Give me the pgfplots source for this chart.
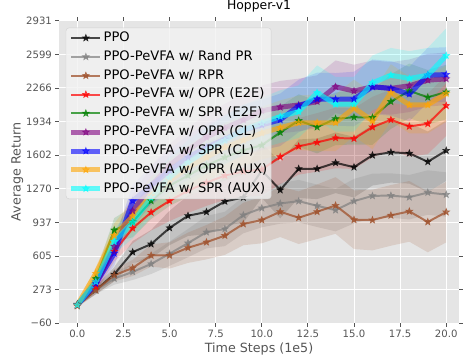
\documentclass[border=0pt]{standalone}
\usepackage{pgfplots}
\pgfplotsset{compat=1.18}
\usepgfplotslibrary{fillbetween}
\usepackage{pgfplotstable}
\usepackage{fontspec}
\setmainfont{DejaVu Sans}
\definecolor{bg}{HTML}{E5E5E5}
\definecolor{tk}{HTML}{555555}
\definecolor{cppo}{HTML}{000000}
\definecolor{crnd}{HTML}{808080}
\definecolor{crpr}{HTML}{A0522D}
\definecolor{cred}{HTML}{FF0000}
\definecolor{cgrn}{HTML}{008000}
\definecolor{cpur}{HTML}{800080}
\definecolor{cblu}{HTML}{0000FF}
\definecolor{corg}{HTML}{FFA500}
\definecolor{ccya}{HTML}{00FFFF}
\pgfdeclareplotmark{fstar}{%
  \pgfpathmoveto{\pgfpointpolar{90}{\pgfplotmarksize}}%
  \pgfpathlineto{\pgfpointpolar{126}{0.42\pgfplotmarksize}}%
  \pgfpathlineto{\pgfpointpolar{162}{\pgfplotmarksize}}%
  \pgfpathlineto{\pgfpointpolar{198}{0.42\pgfplotmarksize}}%
  \pgfpathlineto{\pgfpointpolar{234}{\pgfplotmarksize}}%
  \pgfpathlineto{\pgfpointpolar{270}{0.42\pgfplotmarksize}}%
  \pgfpathlineto{\pgfpointpolar{306}{\pgfplotmarksize}}%
  \pgfpathlineto{\pgfpointpolar{342}{0.42\pgfplotmarksize}}%
  \pgfpathlineto{\pgfpointpolar{18}{\pgfplotmarksize}}%
  \pgfpathlineto{\pgfpointpolar{54}{0.42\pgfplotmarksize}}%
  \pgfpathclose\pgfusepathqfillstroke}
\pgfplotstableread{
t ppo ppoe rnd rnde rpr rpre oe oee se see oc oce sc sce oa oae sa sae
0 126 20 120 15 110 15 120 20 120 20 120 20 120 20 120 20 120 20
1 267 40 267 40 267 40 300 50 380 60 350 60 330 60 431 60 349 60
2 424 70 381 60 414 60 650 100 860 120 700 120 630 120 806 120 747 120
3 643 110 447 80 486 80 879 150 940 150 1050 160 1150 160 1000 160 938 160
4 722 140 526 100 610 110 1036 180 1150 180 1300 190 1300 190 1200 190 1180 190
5 882 170 627 120 610 130 1150 200 1300 200 1500 210 1450 210 1350 210 1380 210
6 1002 200 732 140 686 150 1250 220 1400 210 1650 220 1580 220 1480 220 1530 220
7 1040 220 840 160 741 170 1330 230 1500 220 1780 230 1680 230 1580 230 1650 230
8 1144 240 872 170 806 190 1400 240 1580 230 1870 240 1760 240 1680 240 1750 240
9 1183 250 1009 180 921 210 1440 250 1650 240 1950 250 1850 250 1750 250 1850 250
10 1450 270 1078 190 960 230 1460 260 1700 250 2040 250 1900 250 1820 260 1920 250
11 1257 280 1124 200 1042 250 1585 270 1826 260 2076 260 1951 260 1873 270 1983 260
12 1467 290 1147 210 983 260 1689 280 1944 260 2098 260 2088 260 1922 270 2032 260
13 1467 300 1101 210 1042 270 1728 290 1879 260 2131 260 2157 260 1922 280 2219 270
14 1526 300 1058 210 1104 280 1772 300 1961 260 2278 260 2154 260 1922 280 2105 270
15 1483 300 1147 220 963 290 1765 300 1977 270 2236 260 2157 270 2069 280 2105 270
16 1601 300 1199 220 960 300 1879 300 1974 270 2278 260 2278 270 1941 280 2317 270
17 1630 300 1202 220 1006 300 1951 300 2131 270 2262 260 2262 270 2221 280 2392 270
18 1620 300 1186 220 1046 300 1886 300 2238 270 2288 260 2206 270 2098 280 2360 270
19 1536 300 1232 220 941 300 1912 300 2174 270 2343 260 2392 270 2098 280 2392 270
20 1647 300 1212 220 1039 300 2091 300 2226 270 2356 260 2399 270 2211 280 2586 270
}\data
\begin{document}
\begin{tikzpicture}
\begin{axis}[
  scale only axis, width=403.6pt, height=305pt,
  xmin=-1, xmax=20.7, ymin=-60, ymax=2931,
  axis background/.style={fill=bg},
  axis line style={draw=none},
  grid=major, grid style={white, line width=0.9pt},
  tick align=outside, major tick length=3.5pt,
  tick style={tk, line width=0.8pt},
  xtick={0,2.5,5,7.5,10,12.5,15,17.5,20},
  xticklabel={\pgfmathprintnumber[fixed,fixed zerofill,precision=1,assume math mode=true]{\tick}},
  ytick={-60,272.33,604.67,937,1269.33,1601.67,1934,2266.33,2598.67,2931},
  yticklabels={−60,273,605,937,1270,1602,1934,2266,2599,2931},
  ticklabel style={font=\fontsize{10.2}{12}\selectfont, text=tk},
  title={Hopper-v1},
  title style={font=\fontsize{12.5}{15}\selectfont, at={(axis description cs:0.5,1)}, anchor=south, inner sep=0pt, yshift=3pt},
  xlabel={Time Steps (1e5)},
  xlabel style={font=\fontsize{12.8}{15}\selectfont, text=tk, at={(axis description cs:0.5,-0.085)}, anchor=center},
  ylabel={Average Return},
  ylabel style={font=\fontsize{12.8}{15}\selectfont, text=tk, at={(axis description cs:-0.104,0.5)}, anchor=center},
  legend image code/.code={\draw[mark repeat=2,mark phase=2] plot coordinates {(0pt,0pt) (14.5pt,0pt) (29pt,0pt)};},
  legend cell align=left,
  legend style={at={(axis description cs:0.0173,0.977)}, anchor=north west,
    fill=gray!10, fill opacity=0.8, text opacity=1, draw opacity=1, draw=black!18,
    rounded corners=3pt, font=\fontsize{13.2}{15}\selectfont,
    inner xsep=3pt, inner ysep=3pt, row sep=4.6pt,
    nodes={inner sep=1pt, text height=9.6pt, text depth=2.8pt}},
]
% bands
\addplot[draw=none, name path=aU, forget plot] table[x=t, y expr=\thisrow{ppo}+\thisrow{ppoe}] {\data};
\addplot[draw=none, name path=aL, forget plot] table[x=t, y expr=\thisrow{ppo}-\thisrow{ppoe}] {\data};
\addplot[fill=cppo, fill opacity=0.15, draw=none, forget plot] fill between[of=aU and aL];
\addplot[draw=none, name path=bU, forget plot] table[x=t, y expr=\thisrow{rnd}+\thisrow{rnde}] {\data};
\addplot[draw=none, name path=bL, forget plot] table[x=t, y expr=\thisrow{rnd}-\thisrow{rnde}] {\data};
\addplot[fill=crnd, fill opacity=0.2, draw=none, forget plot] fill between[of=bU and bL];
\addplot[draw=none, name path=cU, forget plot] table[x=t, y expr=\thisrow{rpr}+\thisrow{rpre}] {\data};
\addplot[draw=none, name path=cL, forget plot] table[x=t, y expr=\thisrow{rpr}-\thisrow{rpre}] {\data};
\addplot[fill=crpr, fill opacity=0.16, draw=none, forget plot] fill between[of=cU and cL];
\addplot[draw=none, name path=dU, forget plot] table[x=t, y expr=\thisrow{oe}+\thisrow{oee}] {\data};
\addplot[draw=none, name path=dL, forget plot] table[x=t, y expr=\thisrow{oe}-\thisrow{oee}] {\data};
\addplot[fill=cred, fill opacity=0.14, draw=none, forget plot] fill between[of=dU and dL];
\addplot[draw=none, name path=eU, forget plot] table[x=t, y expr=\thisrow{se}+\thisrow{see}] {\data};
\addplot[draw=none, name path=eL, forget plot] table[x=t, y expr=\thisrow{se}-\thisrow{see}] {\data};
\addplot[fill=cgrn, fill opacity=0.14, draw=none, forget plot] fill between[of=eU and eL];
\addplot[draw=none, name path=fU, forget plot] table[x=t, y expr=\thisrow{oc}+\thisrow{oce}] {\data};
\addplot[draw=none, name path=fL, forget plot] table[x=t, y expr=\thisrow{oc}-\thisrow{oce}] {\data};
\addplot[fill=cpur, fill opacity=0.14, draw=none, forget plot] fill between[of=fU and fL];
\addplot[draw=none, name path=gU, forget plot] table[x=t, y expr=\thisrow{sc}+\thisrow{sce}] {\data};
\addplot[draw=none, name path=gL, forget plot] table[x=t, y expr=\thisrow{sc}-\thisrow{sce}] {\data};
\addplot[fill=cblu, fill opacity=0.12, draw=none, forget plot] fill between[of=gU and gL];
\addplot[draw=none, name path=hU, forget plot] table[x=t, y expr=\thisrow{oa}+\thisrow{oae}] {\data};
\addplot[draw=none, name path=hL, forget plot] table[x=t, y expr=\thisrow{oa}-\thisrow{oae}] {\data};
\addplot[fill=corg, fill opacity=0.18, draw=none, forget plot] fill between[of=hU and hL];
\addplot[draw=none, name path=iU, forget plot] table[x=t, y expr=\thisrow{sa}+\thisrow{sae}] {\data};
\addplot[draw=none, name path=iL, forget plot] table[x=t, y expr=\thisrow{sa}-\thisrow{sae}] {\data};
\addplot[fill=ccya, fill opacity=0.17, draw=none, forget plot] fill between[of=iU and iL];
% lines
\addplot[cppo, opacity=0.7, line width=2pt, mark=fstar, mark size=3.6pt, mark options={line width=0.6pt}] table[x=t, y=ppo] {\data};
\addlegendentry{PPO}
\addplot[crnd, opacity=0.7, line width=2pt, mark=fstar, mark size=3.6pt, mark options={line width=0.6pt}] table[x=t, y=rnd] {\data};
\addlegendentry{PPO-PeVFA w/ Rand PR}
\addplot[crpr, opacity=0.75, line width=2pt, mark=fstar, mark size=3.6pt, mark options={line width=0.6pt}] table[x=t, y=rpr] {\data};
\addlegendentry{PPO-PeVFA w/ RPR}
\addplot[cred, opacity=0.7, line width=2pt, mark=fstar, mark size=3.6pt, mark options={line width=0.6pt}] table[x=t, y=oe] {\data};
\addlegendentry{PPO-PeVFA w/ OPR (E2E)}
\addplot[cgrn, opacity=0.7, line width=2pt, mark=fstar, mark size=3.6pt, mark options={line width=0.6pt}] table[x=t, y=se] {\data};
\addlegendentry{PPO-PeVFA w/ SPR (E2E)}
\addplot[cpur, opacity=0.6, line width=5pt, mark=fstar, mark size=3.6pt, mark options={line width=0.6pt}] table[x=t, y=oc] {\data};
\addlegendentry{PPO-PeVFA w/ OPR (CL)}
\addplot[cblu, opacity=0.6, line width=5pt, mark=fstar, mark size=3.6pt, mark options={line width=0.6pt}] table[x=t, y=sc] {\data};
\addlegendentry{PPO-PeVFA w/ SPR (CL)}
\addplot[corg, opacity=0.6, line width=5pt, mark=fstar, mark size=3.6pt, mark options={line width=0.6pt}] table[x=t, y=oa] {\data};
\addlegendentry{PPO-PeVFA w/ OPR (AUX)}
\addplot[ccya, opacity=0.6, line width=5pt, mark=fstar, mark size=3.6pt, mark options={line width=0.6pt}] table[x=t, y=sa] {\data};
\addlegendentry{PPO-PeVFA w/ SPR (AUX)}
\end{axis}
\path ([xshift=-59.4pt,yshift=-39pt]current axis.south west) rectangle ([yshift=20pt]current axis.north east);
\end{tikzpicture}
\end{document}
